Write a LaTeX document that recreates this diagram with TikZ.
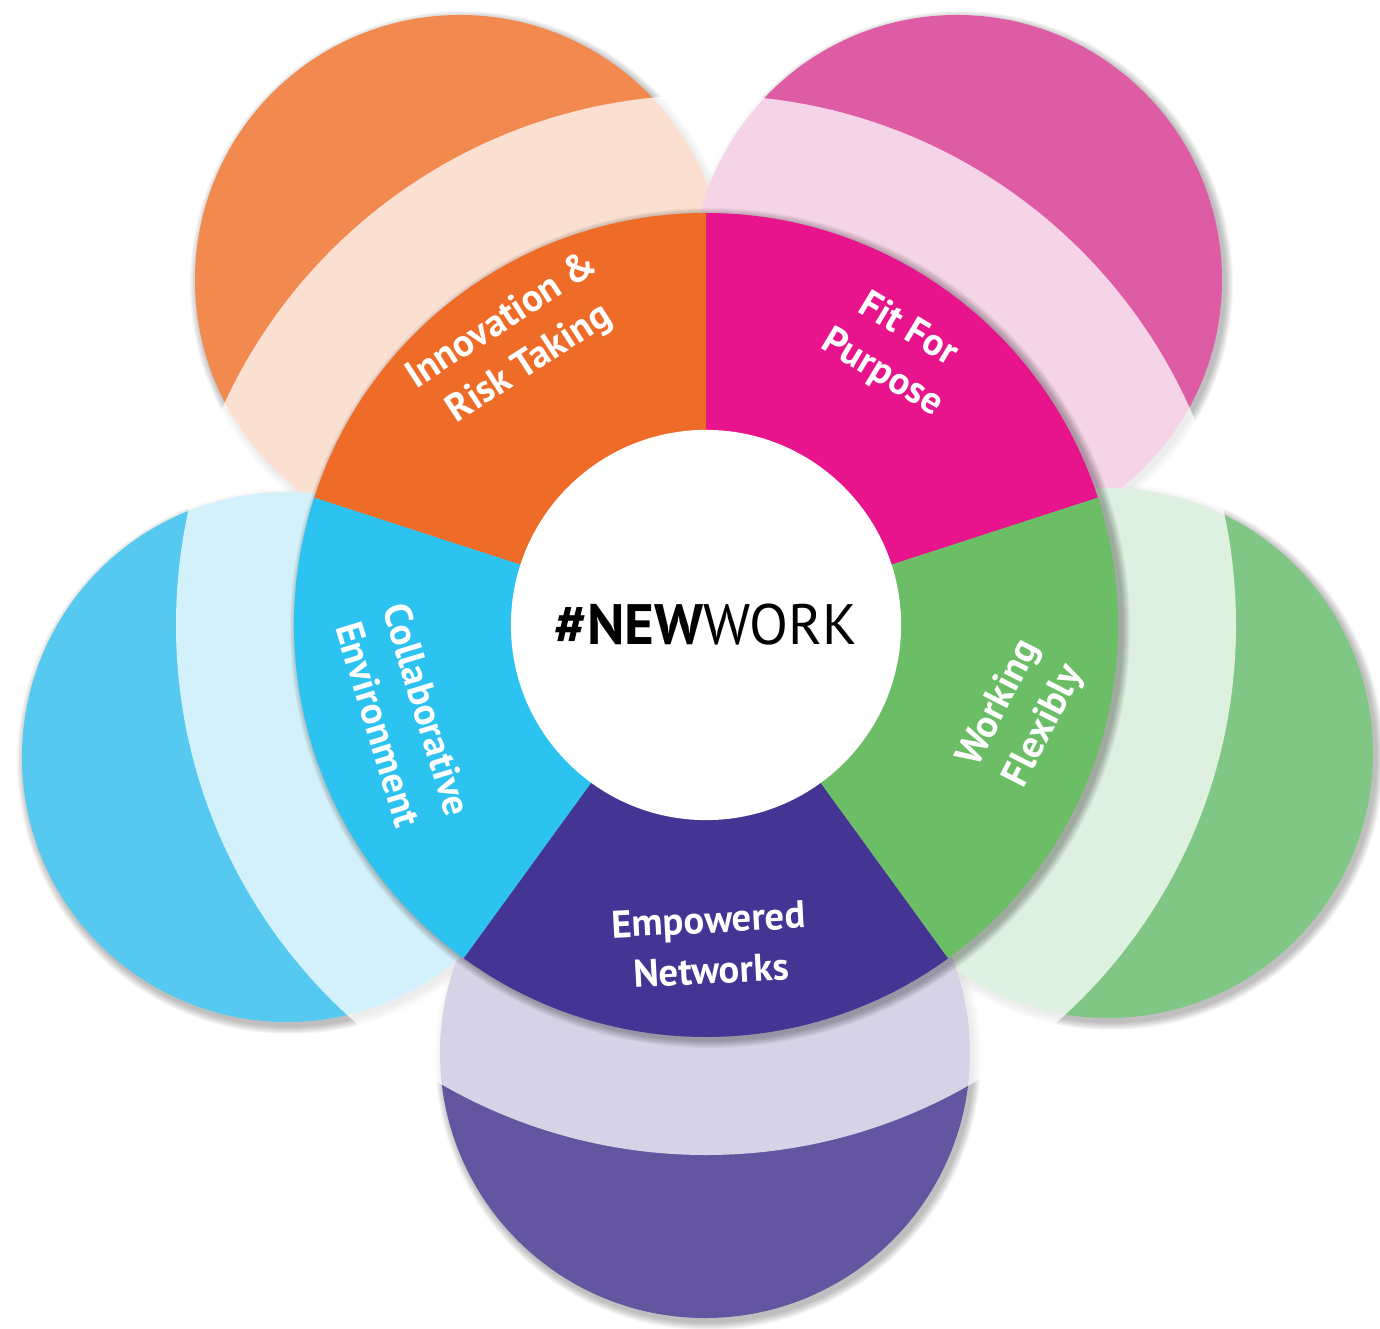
\documentclass[tikz,border=0pt]{standalone}
\usepackage{fontspec}
\setmainfont{PT Sans}
\usepackage{tikz}

\definecolor{orangeout}{HTML}{F2894F}
\definecolor{pinkout}{HTML}{DE5CA3}
\definecolor{greenout}{HTML}{80C786}
\definecolor{purpleout}{HTML}{6455A0}
\definecolor{blueout}{HTML}{55C9EF}
\definecolor{orangeseg}{HTML}{EF6C28}
\definecolor{pinkseg}{HTML}{E7148B}
\definecolor{greenseg}{HTML}{6BBD66}
\definecolor{purpleseg}{HTML}{443594}
\definecolor{blueseg}{HTML}{2DC3F1}

\begin{document}
\begin{tikzpicture}[x=0.01cm,y=0.01cm,
  lab/.style={text=white,align=center,inner sep=0pt,font=\bfseries\fontsize{11}{14.4}\selectfont}]
\useasboundingbox (-706,-703) rectangle (674,625);
% soft shadows under the petals
\foreach \cx/\cy in {-246/345,251/345,402/-128,-1/-428,-419/-132}
  \foreach \s in {1,...,8}
    \fill[black,opacity=0.035] (\cx+3,\cy-4) circle[radius=265+\s];
% petals
\fill[orangeout] (-246,345) circle[radius=265];
\fill[pinkout] (251,345) circle[radius=265];
\fill[greenout] (402,-128) circle[radius=265];
\fill[purpleout] (-1,-428) circle[radius=265];
\fill[blueout] (-419,-132) circle[radius=265];
% veil
\fill[white,opacity=0.74] (0,0) circle[radius=530];
\foreach \s in {1,...,8}
  \fill[black,opacity=0.04] (4,-3) circle[radius=412+\s];
% wheel
\foreach \col/\a in {pinkseg/18,orangeseg/90,blueseg/162,purpleseg/234,greenseg/306}
  \fill[\col] (0,0) -- (\a:412) arc[start angle=\a,end angle=\a+72,radius=412] -- cycle;
\path (0,0) node[circle,fill=white,minimum size=3.9cm,inner sep=0pt] (core)
  {\fontsize{16.2}{18}\selectfont{\bfseries\#NEW}WORK};
\path (-190,282) node[lab,rotate=33] (innov) {Innovation \&\\Risk Taking}
      (189,273) node[lab,rotate=-31] (fit) {Fit For\\Purpose}
      (316,-90) node[lab,rotate=63] (flex) {Working\\Flexibly}
      (4,-320) node[lab,rotate=3] (empow) {Empowered\\Networks}
      (-303,-92) node[lab,rotate=-73] (collab) {Collaborative\\Environment};
\end{tikzpicture}
\end{document}
